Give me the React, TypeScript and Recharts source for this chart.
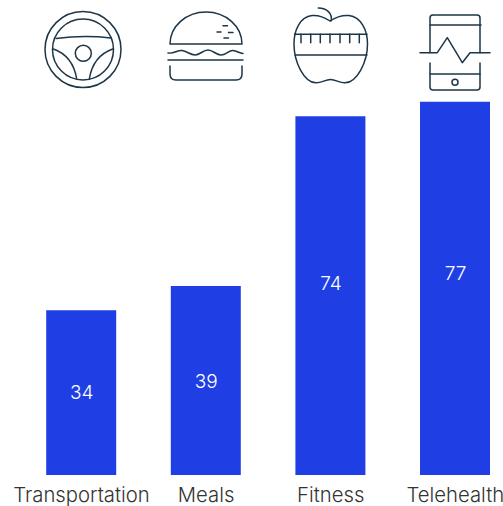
import React from "react";
import { BarChart, Bar, XAxis, YAxis, LabelList } from "recharts";

const categories = ["Transportation", "Meals", "Fitness", "Telehealth"];
const values = [34, 39, 74, 77];
const rows = categories.map((name, i) => ({ name, value: values[i] }));

const FONT = "Inter, 'Liberation Sans', sans-serif";
const INK = "#1c3648";
const labelLift: Record<number, number> = { 34: 0, 39: -1.5, 74: 12, 77: 15 };

function Icons() {
  const s = { fill: "none", stroke: INK, strokeWidth: 1.5, strokeLinecap: "round" as const, strokeLinejoin: "round" as const };
  return (
    <g {...s}>
      {/* steering wheel */}
      <circle cx={83} cy={49.5} r={38} />
      <circle cx={83} cy={49.5} r={30.5} />
      <circle cx={83.3} cy={53.3} r={8} />
      <path d="M56 38.5 Q83 35 111 38" />
      <path d="M53.5 49 Q73 56 76.7 79" />
      <path d="M112.7 49 Q93 56 89.3 79" />
      {/* burger */}
      <path d="M170 44 A36 32 0 0 1 242 44 Z" />
      <path d="M168 53 C174 54 177 50 182 50.5 C187 51 190 55 195 55 C200 55 203 50 208 50 C213 50 216 55 221 55 C226 55 229 50 233 50.5 C237 51 239 53 243 53.5" />
      <path d="M168 60 H243" />
      <path d="M170 66 V74 Q170 80 176 80 H236 Q242 80 242 74 V66" />
      <path d="M223 25.7 H227.5 M217 32 H221 M228.5 32.5 H233 M224 38 H228.500" />
      {/* apple */}
      <path d="M330 21 C324 17 318 15 312 15.500 C300 17 294 30 294 44 C294 62 304 82.500 316 82.800 C322 83 325 79.500 330.500 79.500 C336 79.500 339 83 345 82.800 C357 82.500 367.500 62 367.500 44 C367.500 30 361 17 349 15.500 C343 15 336 17 330 21 Z" />
      <path d="M331 21 C333 14 327 8 318.300 8" />
      <path d="M294.500 34.300 H367 M295 55 H367" />
      <path d="M301 34.300 V42.700 M310.700 34.300 V42.700 M320.300 34.300 V42.700 M330 34.300 V42.700 M340 34.300 V42.700 M349.700 34.300 V42.700 M359.300 34.300 V42.700" />
      {/* tablet */}
      <path d="M430 52.700 V18 Q430 15 433 15 H477 Q480 15 480 18 V52.700" />
      <path d="M430 25 H481" />
      <path d="M420 52.700 H437.300 L447.300 37.700 L462.300 62.700 L470 52.700 H490" />
      <path d="M430 63 V87 Q430 90 433 90 H477 Q480 90 480 87 V63" />
      <path d="M430 74 H480" />
      <circle cx={455} cy={82.300} r={3} />
    </g>
  );
}

function ValueLabel(props: any) {
  const { x, y, width, height, value } = props;
  return (
    <text
      x={x + width / 2 + 0.5}
      y={y + height / 2 - (labelLift[value] ?? 0)}
      fill="#ffffff"
      fontFamily={FONT}
      fontSize={19}
      fontWeight={300}
      textAnchor="middle"
      dominantBaseline="central"
    >
      {value}
    </text>
  );
}

export default function App() {
  return (
    <div style={{ position: "absolute", left: 0, top: 0, width: 503, height: 506, overflow: "hidden" }}>
      <BarChart
        width={503}
        height={506}
        data={rows}
        margin={{ top: 0, right: -14.6, bottom: 0, left: 19.2 }}
        style={{ overflow: "visible" }}
      >
        <XAxis
          dataKey="name"
          axisLine={false}
          tickLine={false}
          interval={0}
          height={31}
          tick={{ fill: "#333333", fontFamily: FONT, fontSize: 20.3, fontWeight: 300, dy: 4.5 }}
        />
        <YAxis hide type="number" domain={[0, 98]} />
        <Bar dataKey="value" fill="#1f3fe5" barSize={70} isAnimationActive={false}>
          <LabelList dataKey="value" content={ValueLabel} />
        </Bar>
        <Icons />
      </BarChart>
    </div>
  );
}
